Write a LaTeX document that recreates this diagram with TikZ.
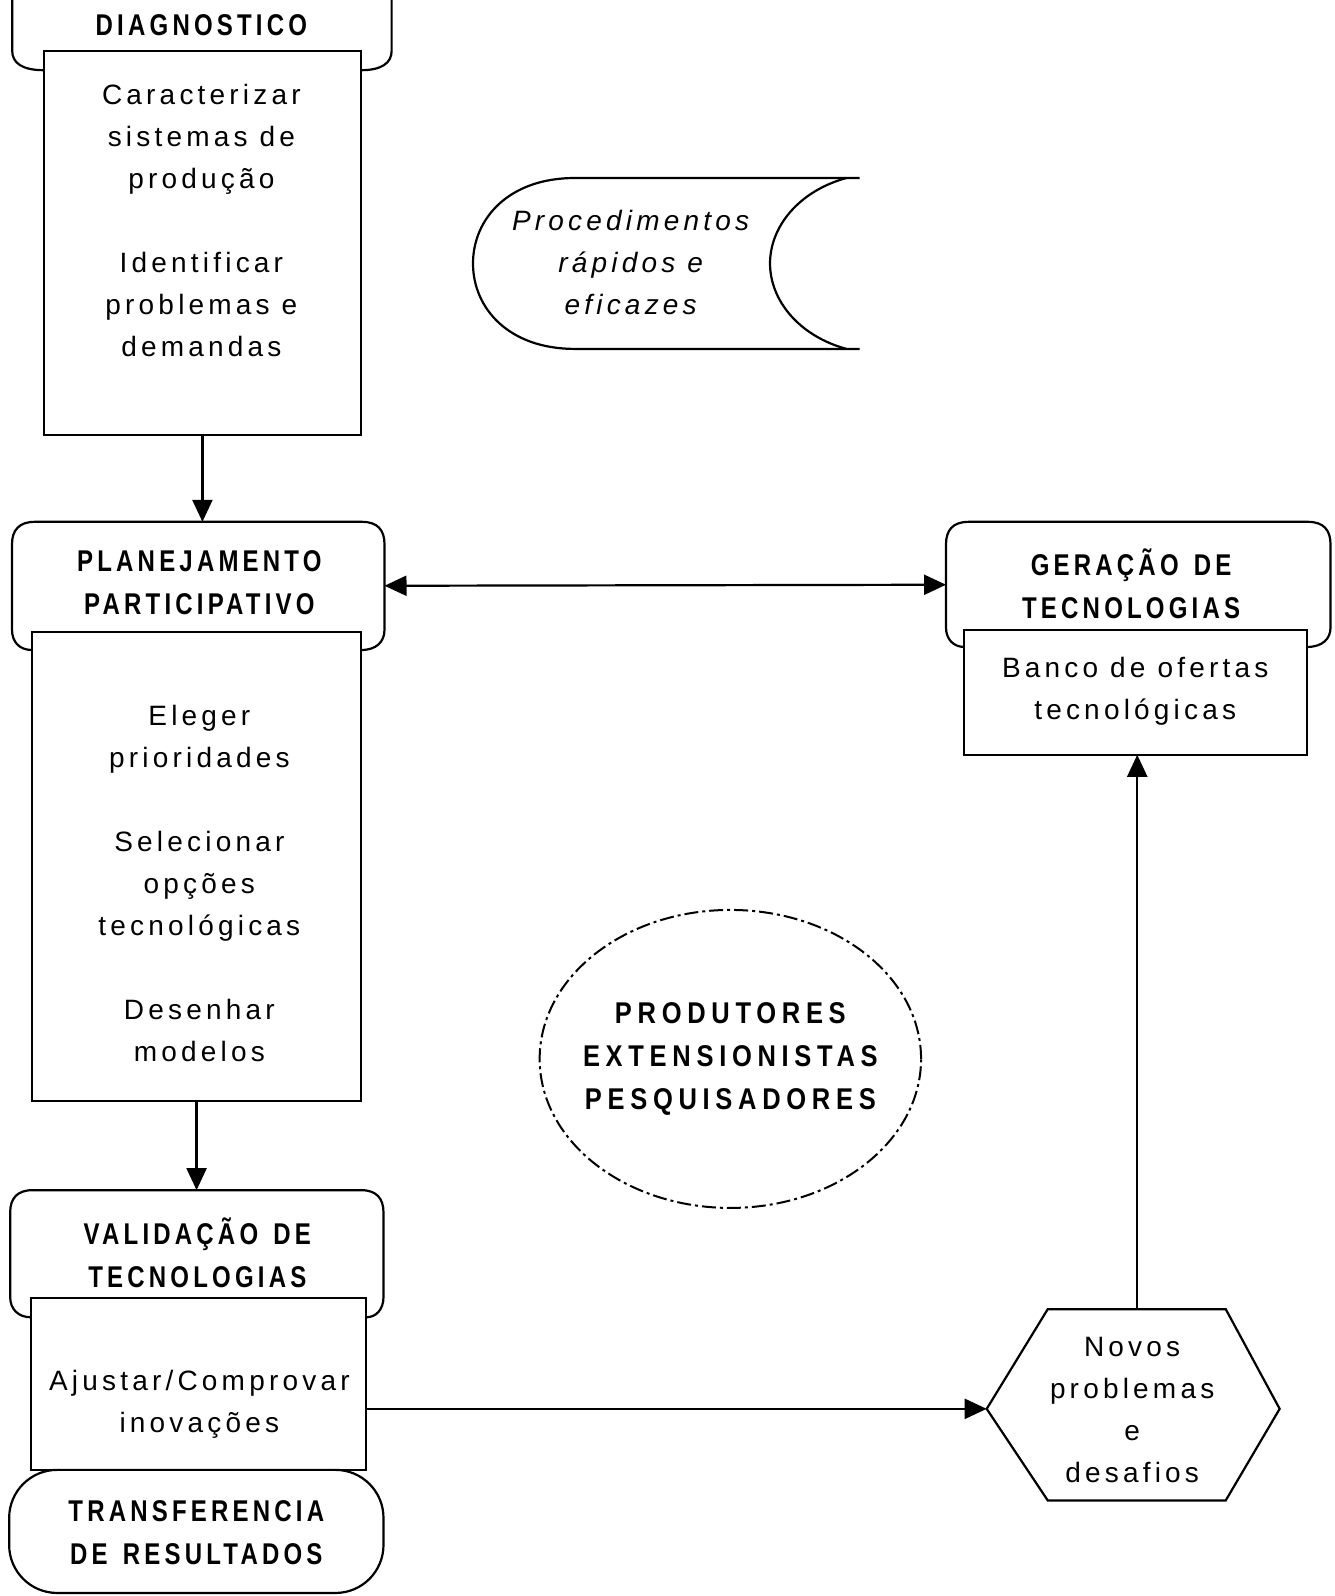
\documentclass[tikz,border=0pt]{standalone}
\usepackage{fontspec}
\setmainfont{Liberation Sans}
\newfontfamily\bodyfont[LetterSpace=15]{Liberation Sans}
\newfontfamily\headfont[FakeStretch=0.8,LetterSpace=14,WordSpace=1.4]{Liberation Sans}
\newfontfamily\ellfont[FakeStretch=0.85,LetterSpace=19,WordSpace=1.4]{Liberation Sans}
\usetikzlibrary{arrows.meta,fit,shapes.geometric}
\tikzset{
  ln/.style={line width=1.1pt},
  tip/.tip={Triangle[length=11pt,width=10pt]},
  arr/.style={ln,-tip},
  darr/.style={ln,tip-tip},
  headtxt/.style={font=\headfont\bfseries\fontsize{15}{21.5}\selectfont, align=center, inner sep=0},
  elltxt/.style={font=\ellfont\bfseries\fontsize{15}{21.5}\selectfont, align=center, inner sep=0},
  bodytxt/.style={font=\bodyfont\fontsize{14}{21}\selectfont, align=center, inner sep=0},
  itxt/.style={font=\bodyfont\itshape\fontsize{14}{21}\selectfont, align=center, inner sep=0},
  area/.style={inner sep=0, outer sep=0},
  boxed/.style={area, draw, ln},
}
\begin{document}
\begin{tikzpicture}[x=0.5086pt,y=-0.5086pt]
\useasboundingbox (0pt,0pt) rectangle (667pt,-798pt);
\fill[white] (0pt,0pt) rectangle (667pt,-798pt);

% ---------- DIAGNOSTICO ----------
\draw[ln] (12,0) -- (12,50) .. controls (12,62) and (22,69) .. (43,69);
\draw[ln] (385,0) -- (385,50) .. controls (385,62) and (375,69) .. (355,69);
\node[headtxt] (diaghead) at (198,25) {DIAGNOSTICO};
\node[boxed, fit={(43,50)(355,428)}] (diagbox) {};
\node[bodytxt] (diagtxt) at (198,217) {Caracterizar\\sistemas de\\produção\\[21pt]Identificar\\problemas e\\demandas};

% ---------- PLANEJAMENTO ----------
\draw[ln] (31.5,639) .. controls (19,639) and (11.8,631) .. (11.8,619)
  -- (11.8,535) .. controls (11.8,521) and (19,513) .. (34,513)
  -- (356,513) .. controls (371,513) and (378,521) .. (378,535)
  -- (378,619) .. controls (378,631) and (370,639) .. (355,639);
\node[area, fit={(11.8,513)(378,621)}] (planhead) {};
\node[headtxt] (planlbl) at (196,573) {PLANEJAMENTO\\PARTICIPATIVO};
\node[boxed, fit={(31.5,621)(355,1082)}] (planbox) {};
\node[bodytxt] (plantxt) at (196,869) {Eleger\\prioridades\\[21pt]Selecionar\\opções\\tecnológicas\\[21pt]Desenhar\\modelos};

% ---------- VALIDACAO ----------
\draw[ln] (30.5,1295) .. controls (18,1295) and (10,1287) .. (10,1275)
  -- (10,1192) .. controls (10,1178) and (17,1170) .. (32,1170)
  -- (355,1170) .. controls (370,1170) and (377,1178) .. (377,1192)
  -- (377,1275) .. controls (377,1287) and (370,1295) .. (360,1295);
\node[area, fit={(10,1170)(377,1276)}] (valhead) {};
\node[headtxt] (vallbl) at (194,1232) {VALIDAÇÃO DE\\TECNOLOGIAS};
\node[boxed, fit={(30.5,1276)(360,1445)}] (valbox) {};
\node[bodytxt] (valtxt) at (196,1381) {Ajustar/Comprovar\\inovações};

% ---------- TRANSFERENCIA ----------
\node[boxed, rounded corners=24, fit={(9,1445)(377,1566)}] (transf) {};
\node[headtxt] (transflbl) at (193,1507) {TRANSFERENCIA\\DE RESULTADOS};

% ---------- GERACAO ----------
\draw[ln] (948,636) .. controls (937,636) and (930,628) .. (930,617)
  -- (930,535) .. controls (930,521) and (937,513) .. (952,513)
  -- (1286,513) .. controls (1301,513) and (1308,521) .. (1308,535)
  -- (1308,617) .. controls (1308,628) and (1300,636) .. (1285,636);
\node[area, fit={(930,513)(1308,619)}] (gerhead) {};
\node[headtxt] (gerlbl) at (1112,574) {GERAÇÃO DE\\TECNOLOGIAS};
\node[boxed, fit={(948,619)(1285,742)}] (gerbox) {};
\node[bodytxt] (gertxt) at (1116,680) {Banco de ofertas\\tecnológicas};

% ---------- Procedimentos ----------
\draw[ln] (845,175) -- (565,175)
  .. controls (500,175) and (465,215) .. (465,259)
  .. controls (465,303) and (500,343) .. (565,343) -- (845,343);
\draw[ln] (832,343) .. controls (785,330) and (757,295) .. (757,259)
  .. controls (757,223) and (785,188) .. (832,175);
\node[itxt] (proc) at (620,258) {Procedimentos\\rápidos e\\eficazes};

% ---------- ellipse ----------
\node[ellipse, draw, line width=1pt, dash pattern=on 7pt off 2pt on 1.5pt off 2pt,
      minimum width=190.7pt, minimum height=149pt, inner sep=0] (ell) at (718,1041) {};
\node[elltxt] (elllbl) at (718,1041) {PRODUTORES\\EXTENSIONISTAS\\PESQUISADORES};

% ---------- hexagon ----------
\coordinate (hexL) at (970,1385);
\coordinate (hexT) at (1118,1287);
\draw[ln] (hexL) -- (1030,1287) -- (1205,1287) -- (1258,1385) -- (1205,1475) -- (1030,1475) -- cycle;
\node[bodytxt] (hextxt) at (1113,1386) {Novos\\problemas\\e\\desafios};

% ---------- connectors ----------
\draw[arr] (diagbox.south) -- (diagbox.south |- planhead.north);
\draw[arr] (planbox.south) -- (planbox.south |- valhead.north);
\draw[darr] ([yshift=-4.5pt]planhead.east) -- ([yshift=-4.5pt]gerhead.west);
\draw[arr] (valbox.east |- hexL) -- (hexL);
\draw[arr] (hexT) -- (hexT |- gerbox.south);
\end{tikzpicture}
\end{document}
